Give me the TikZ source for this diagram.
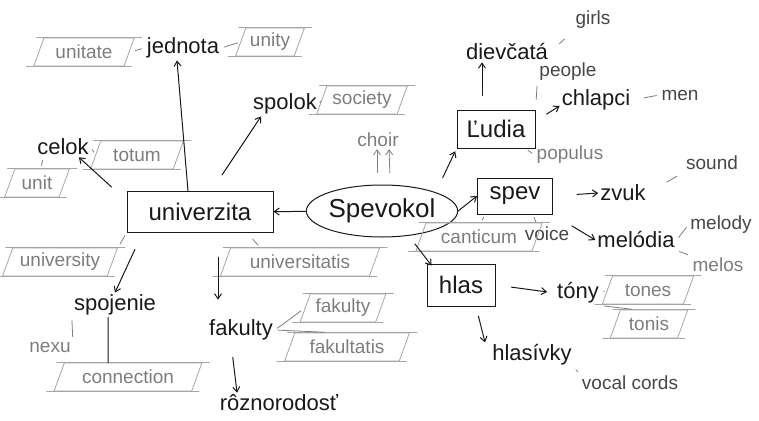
\documentclass[tikz,border=0pt]{standalone}
\usepackage{fontspec}
\setmainfont{Liberation Sans}
\usepackage{xcolor}
\definecolor{ink}{RGB}{25,25,25}
\definecolor{dark-gray}{RGB}{70,70,70}
\definecolor{pencil}{RGB}{125,125,125}
\definecolor{pencil-line}{RGB}{165,165,165}
\usetikzlibrary{shapes.geometric,arrows.meta}

\newcommand{\wordfont}{\fontsize{22}{25}\selectfont}
\newcommand{\boxfont}{\fontsize{24}{27}\selectfont}
\newcommand{\glossfont}{\fontsize{19}{22}\selectfont}

\tikzset{
	word/.style={font=\wordfont,text=ink,inner sep=2pt},
	boxed/.style={word,font=\boxfont,draw=ink,line width=1pt,inner sep=0pt},
	note/.style={font=\glossfont,text=dark-gray,inner sep=2pt},
	latin/.style={note,text=pencil},
	glossline/.style={draw=pencil-line,line width=.8pt},
	gloss/.style={trapezium,trapezium left angle=70,trapezium right angle=110,
		draw=pencil-line,line width=.8pt,text=pencil,font=\glossfont,
		minimum height=28pt,inner xsep=1pt,
		append after command={\pgfextra{\let\glossnode\tikzlastnode}
			([xshift=-7pt]\glossnode.top left corner) edge[glossline]
			([xshift=7pt]\glossnode.top right corner)
			([xshift=-7pt]\glossnode.bottom left corner) edge[glossline]
			([xshift=7pt]\glossnode.bottom right corner)}},
	link/.style={->,draw=ink,line width=1pt},
	tick/.style={draw=pencil,line width=.8pt,shorten <=3pt,shorten >=3pt},
}

\begin{document}
\begin{tikzpicture}[x=1pt,y=-1pt,>={Straight Barb[length=5pt,width=7pt]},line cap=round]
	\useasboundingbox (0,0) rectangle (759,420);

	% slovak words
	\foreach \x/\y/\n/\t in
	{183/48/jednota/jednota,285/104/spolok/spolok,63/147/celok/celok,
	 507/52/dievcata/dievčatá,596/100/chlapci/chlapci,623/193/zvuk/zvuk,
	 636/240/melodia/melódia,578/293/tony/tóny,532/355/hlasivky/hlasívky,
	 115/305/spojenie/spojenie,241/330/fakulty/fakulty,279/403/roznorodost/rôznorodosť}{
		\node[word] (\n) at (\x,\y) {\t};
	}

	\node[boxed,minimum width=146pt,minimum height=41pt] (univ) at (200,212) {univerzita};
	\node[boxed,ellipse,font=\fontsize{26}{29}\selectfont,minimum width=126pt,minimum height=52pt] (spevokol) at (382,211) {Spevokol};
	\node[boxed,minimum width=78pt,minimum height=38pt] (ludia) at (496,129) {Ľudia};
	\node[boxed,minimum width=75pt,minimum height=36pt] (spev) at (515,196) {spev};
	\node[boxed,minimum width=68pt,minimum height=42pt] (hlas) at (461,285) {hlas};

	% english and latin
	\foreach \x/\y/\n/\t in
	{593/20/girls/girls,568/72/people/people,680/95/men/men,712/163/sound/sound,
	 547/234/voice/voice,721/225/melody/melody,630/383/vocalcords/vocal cords}{
		\node[note] (\n) at (\x,\y) {\t};
	}
	\foreach \x/\y/\n/\t in
	{378/140/choir/choir,570/155/populus/populus,718/265/melos/melos,50/347/nexu/nexu}{
		\node[latin] (\n) at (\x,\y) {\t};
	}
	\foreach \x/\y/\n/\t in
	{84/52/unitate/unitate,270/42/unity/unity,362/100/society/society,
	 137/155/totum/totum,37/183/unit/unit,60/262/university/university,
	 300/262/universitatis/universitatis,479/237/canticum/canticum,
	 343/308/fakultyg/fakulty,347/347/fakultatis/fakultatis,
	 128/377/connection/connection,648/290/tones/tones,649/324/tonis/tonis}{
		\node[gloss] (\n) at (\x,\y) {\t};
	}

	% arrows
	\draw[link] (spevokol) -- (univ);
	\draw[link] ([xshift=-12pt]univ.north) -- ([xshift=-6pt]jednota.south);
	\draw[link] ([xshift=22pt,yshift=16pt]univ.north) -- ([xshift=10pt]spolok.south west);
	\draw[link] ([xshift=-15pt,yshift=4pt]univ.north west) -- ([xshift=-12pt]celok.south east);
	\draw[link,shorten <=18pt] ([xshift=16pt]univ.south west) -- (spojenie.north);
	\draw[link,shorten <=24pt,shorten >=18pt] ([xshift=18pt]univ.south) -- ([xshift=-23pt]fakulty.north);
	\draw[link,shorten <=15pt] ([xshift=-10pt]fakulty.south) -- ([xshift=-42pt]roznorodost.north);
	\draw[link,draw=pencil,line width=.8pt,shorten <=4pt] ([xshift=-5pt,yshift=8pt]spevokol.north) -- ([xshift=-1pt]choir.south);
	\draw[link,draw=pencil,line width=.8pt,shorten <=4pt] ([xshift=8pt,yshift=8pt]spevokol.north) -- ([xshift=11pt]choir.south);
	\draw[link,shorten <=16pt,shorten >=3pt] (spevokol.north east) -- (ludia.south west);
	\draw[link] (spevokol.east) -- (spev.west);
	\draw[link,shorten <=8pt] ([xshift=28pt]spevokol.south) -- ([xshift=5pt,yshift=-2pt]hlas.north west);
	\draw[link] ([xshift=-14pt,yshift=14pt]ludia.north) -- ([xshift=-25pt]dievcata.south);
	\draw[link,shorten <=13pt] ([yshift=8pt]ludia.east) -- ([yshift=-6pt]chlapci.west);
	\draw[link,shorten <=24pt] (spev.east) -- (zvuk.west);
	\draw[link,shorten <=22pt] (spev.south east) -- (melodia.west);
	\draw[link,shorten <=16pt,shorten >=8pt] (hlas.east) -- (tony.west);
	\draw[link,shorten <=10pt] ([xshift=15pt]hlas.south) -- ([xshift=-47pt]hlasivky.north);
	\draw[ink,line width=1pt] ([xshift=-7pt]spojenie.south) -- ([xshift=-20pt]connection.north);

	% glosses
	\draw[tick,shorten <=6pt] (unitate.east) -- (jednota.west);
	\draw[tick] (jednota.east) -- (unity.west);
	\draw[tick] (spolok.east) -- (society.west);
	\draw[tick] (celok.east) -- (totum.west);
	\draw[tick] ([xshift=4pt]unit.north) -- ([xshift=8pt]celok.south west);
	\draw[tick,shorten <=4pt] (university.top right corner) -- (univ.south west);
	\draw[tick,shorten <=8pt] ([xshift=-26pt]univ.south east) -- ([xshift=-40pt]universitatis.north);
	\draw[tick] ([xshift=-30pt]spev.south) -- ([xshift=2pt]canticum.north);
	\draw[tick] ([xshift=-20pt]spev.south east) -- ([xshift=-10pt]voice.north);
	\draw[tick] ([xshift=-10pt]ludia.south east) -- (populus.west);
	\draw[tick,shorten <=10pt] (ludia.north east) -- (people.south west);
	\draw[tick,shorten <=12pt,shorten >=12pt] (dievcata.east) -- (girls.south west);
	\draw[tick,shorten <=12pt] (chlapci.east) -- (men.west);
	\draw[tick,shorten <=22pt,shorten >=8pt] (zvuk.east) -- (sound.south west);
	\draw[tick] (melodia.east) -- (melody.west);
	\draw[tick] (melodia.south east) -- (melos.north west);
	\draw[tick] (tony.east) -- (tones.west);
	\draw[tick] (tony.south east) -- (tonis.north west);
	\draw[tick] (hlasivky.south east) -- (vocalcords.north west);
	\draw[tick] (spojenie.south west) -- (nexu.north east);
	\draw[tick,shorten >=5pt] (fakulty.east) -- (fakultyg.west);
	\draw[tick,shorten >=8pt] (fakulty.east) -- (fakultatis.north west);
\end{tikzpicture}
\end{document}
